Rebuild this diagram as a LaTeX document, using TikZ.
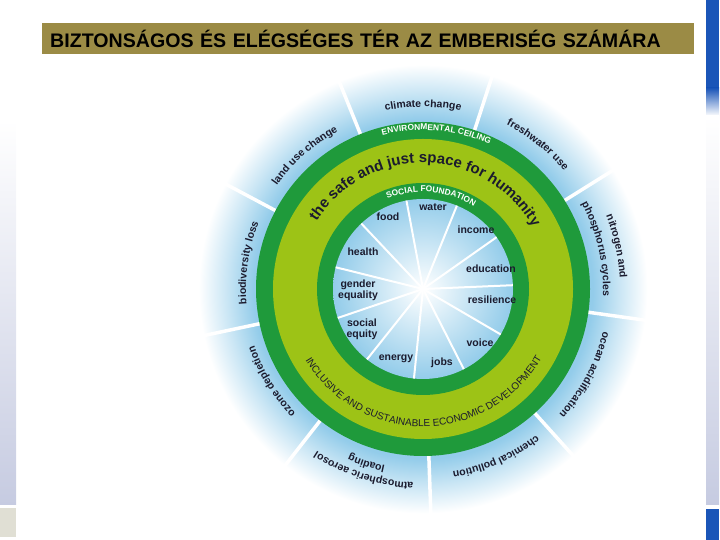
\documentclass[tikz,border=0pt]{standalone}
\usepackage{fontspec}
\setmainfont{Liberation Sans}
\usepackage{tikz}
\usetikzlibrary{calc, decorations.text}

\definecolor{titlebar}{HTML}{9B8B45}
\definecolor{barblue}{HTML}{1A55B8}
\definecolor{lavender}{HTML}{C6CBE1}
\definecolor{beige}{HTML}{E0DFD4}
\definecolor{ceilgreen}{HTML}{1F9A3B}
\definecolor{spacegreen}{HTML}{9DC316}
\definecolor{skyblue}{HTML}{93CCEA}
\definecolor{labelink}{HTML}{1B1B2E}
\colorlet{halomid}{skyblue!50!white}

\pgfdeclareradialshading{halo}{\pgfpointorigin}{color(0bp)=(skyblue); color(18.6bp)=(skyblue); color(21.5bp)=(halomid); color(24.6bp)=(white); color(50bp)=(white)}

\newcommand{\lblfnt}{\fontsize{10.5}{11}\selectfont\bfseries}

\begin{document}
\begin{tikzpicture}[x=1pt, y=1pt,
    lbl/.style={font=\lblfnt, text=labelink, align=center, inner sep=0pt},
    outerlbl/.style={decorate, decoration={text along path, text align=center,
      text color=labelink, text={|\lblfnt|#1}}},
    ringcap/.style={decorate, decoration={text along path, text align=center,
      text color=white, text={|\fontsize{8.4}{9}\selectfont\bfseries|#1}}}
  ]
  \useasboundingbox (0,0) rectangle (720,540);
  \coordinate (C) at (423,251);

  % side bars
  \fill[barblue] (706,452) rectangle (719,540);
  \shade[top color=barblue, bottom color=white] (706,424) rectangle (719,452);
  \shade[top color=white, bottom color=lavender] (706,35) rectangle (719,424);
  \fill[barblue] (706,0) rectangle (719,31);
  \shade[top color=white, bottom color=lavender] (0,35) rectangle (16,420);
  \fill[beige] (0,3) rectangle (16,32);

  \node[fill=titlebar, anchor=north west, inner xsep=8pt, inner ysep=0pt,
    text width=636pt, minimum height=31pt,
    font=\fontsize{19.6}{20}\selectfont\bfseries] (title) at (42,517)
    {BIZTONSÁGOS ÉS ELÉGSÉGES TÉR AZ EMBERISÉG SZÁMÁRA};

  % planetary boundaries
  \shade[shading=halo] (C) circle (228);
  \foreach \a in {112,72,...,-208}
    \draw[white, line width=3.5pt] ($(C)+(\a:166)$) -- ($(C)+(\a:232)$);

  \fill[ceilgreen] (C) circle (167);
  \fill[spacegreen] (C) circle (150);
  \fill[ceilgreen] (C) circle (106);
  \shade[inner color=white, outer color=skyblue] (C) circle (90);
  \foreach \k in {0,...,10}
    \draw[white, line width=2pt] (C) -- ($(C)+(100.6-32.73*\k:90)$);

  % social foundation
  \node[lbl] (food) at (388,323) {food};
  \node[lbl] (water) at (433,333) {water};
  \node[lbl] (income) at (476,310) {income};
  \node[lbl] (education) at (491,271) {education};
  \node[lbl] (resilience) at (492,240) {resilience};
  \node[lbl] (voice) at (480,197) {voice};
  \node[lbl] (jobs) at (442,177) {jobs};
  \node[lbl] (energy) at (396,181) {energy};
  \node[lbl] (equity) at (362,211) {social\\equity};
  \node[lbl] (gender) at (358,250) {gender\\equality};
  \node[lbl] (health) at (363,288) {health};

  % texts along the rings
  \path[ringcap={ENVIRONMENTAL CEILING}] ($(C)+(130:159)$) arc[start angle=130, end angle=40, radius=159];
  \path[ringcap={SOCIAL FOUNDATION}] ($(C)+(135:97)$) arc[start angle=135, end angle=35, radius=97];
  \path[decorate, decoration={text along path, text align=center, text color=labelink,
    text={|\fontsize{15}{15}\selectfont\bfseries|the safe and just space for humanity}}]
    ($(C)+(170:126)$) arc[start angle=170, end angle=7, radius=126];
  \path[decorate, decoration={text along path, text align=center, text color=labelink,
    text={|\fontsize{10}{10}\selectfont|INCLUSIVE AND SUSTAINABLE ECONOMIC DEVELOPMENT}}]
    ($(C)+(-175:137.5)$) arc[start angle=-175, end angle=-4, radius=137.5];

  \path[outerlbl={climate change}] ($(C)+(135:182)$) arc[start angle=135, end angle=45, radius=182];
  \path[outerlbl={freshwater use}] ($(C)+(96:184)$) arc[start angle=96, end angle=7, radius=184];
  \path[outerlbl={nitrogen and}] ($(C)+(57:197)$) arc[start angle=57, end angle=-32, radius=197];
  \path[outerlbl={phosphorus cycles}] ($(C)+(58:180)$) arc[start angle=58, end angle=-32, radius=180];
  \path[outerlbl={ocean acidification}] ($(C)+(17:185)$) arc[start angle=17, end angle=-73, radius=185];
  \path[outerlbl={chemical pollution}] ($(C)+(-21:185)$) arc[start angle=-21, end angle=-112, radius=185];
  \path[outerlbl={atmospheric aerosol}] ($(C)+(-63:194)$) arc[start angle=-63, end angle=-153, radius=194];
  \path[outerlbl={loading}] ($(C)+(-63:181)$) arc[start angle=-63, end angle=-153, radius=181];
  \path[outerlbl={ozone depletion}] ($(C)+(-103:178)$) arc[start angle=-103, end angle=-194, radius=178];
  \path[outerlbl={biodiversity loss}] ($(C)+(-143:177)$) arc[start angle=-143, end angle=-234, radius=177];
  \path[outerlbl={land use change}] ($(C)+(176:179)$) arc[start angle=176, end angle=87, radius=179];
\end{tikzpicture}
\end{document}
